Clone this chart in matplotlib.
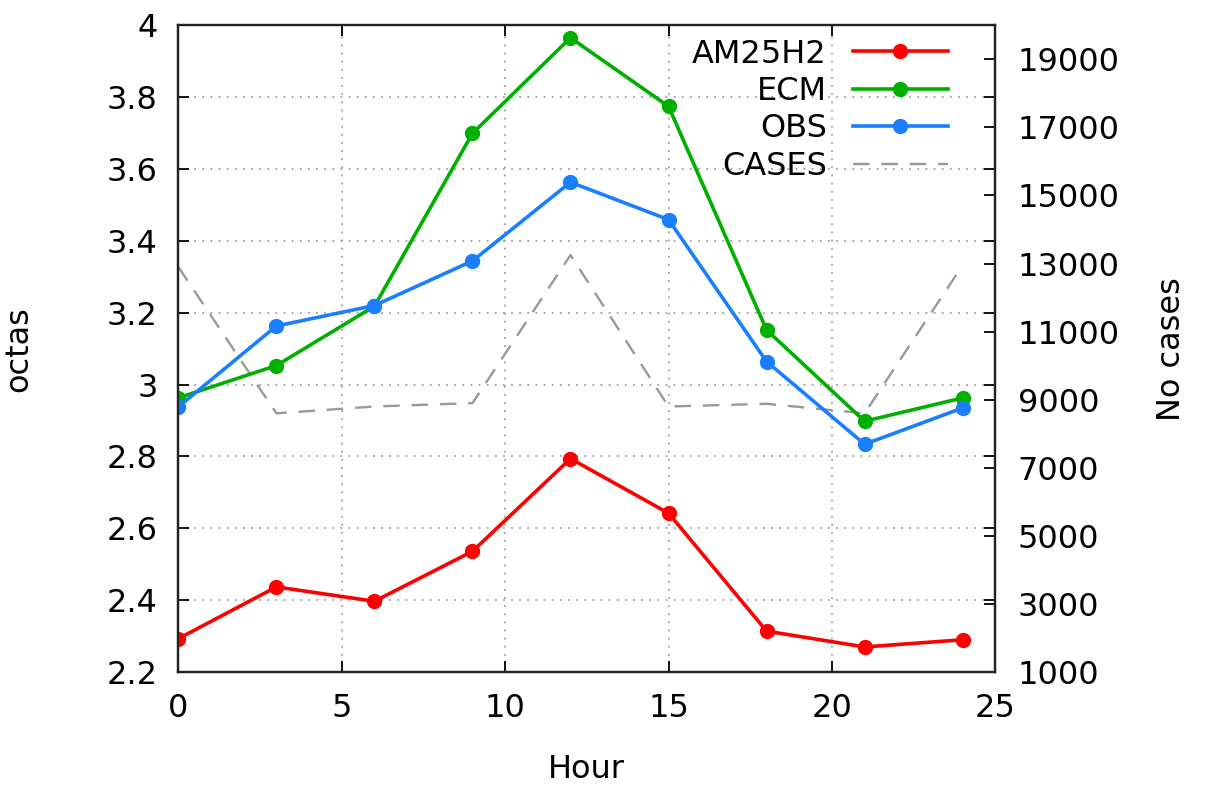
import matplotlib
matplotlib.use('Agg')
import matplotlib.pyplot as plt

# data
hours = [0, 3, 6, 9, 12, 15, 18, 21, 24]
am25h2 = [2.293, 2.437, 2.397, 2.536, 2.794, 2.642, 2.314, 2.270, 2.290]
ecm = [2.963, 3.053, 3.218, 3.699, 3.965, 3.774, 3.152, 2.898, 2.963]
obs = [2.938, 3.163, 3.220, 3.344, 3.563, 3.459, 3.064, 2.834, 2.935]
cases = [12900, 8600, 8800, 8900, 13250, 8800, 8880, 8600, 12950]

left_ticks = [2.2, 2.4, 2.6, 2.8, 3.0, 3.2, 3.4, 3.6, 3.8, 4.0]
left_labels = ['2.2', '2.4', '2.6', '2.8', '3', '3.2', '3.4', '3.6', '3.8', '4']
right_ticks = [1000, 3000, 5000, 7000, 9000, 11000, 13000, 15000, 17000, 19000]
x_ticks = [0, 5, 10, 15, 20, 25]

plt.rcParams['font.family'] = ['DejaVu Sans']
plt.rcParams['font.size'] = 23

fig = plt.figure(figsize=(12.05, 7.87), dpi=100)
ax1 = fig.add_axes([0.148, 0.146, 0.678, 0.822])
ax2 = ax1.twinx()

# keep the cases line behind the model lines
ax1.set_zorder(ax2.get_zorder() + 1)
ax1.patch.set_visible(False)

l1, = ax1.plot(hours, am25h2, color='#ff0000', lw=2.6, marker='o', ms=10, label='AM25H2')
l2, = ax1.plot(hours, ecm, color='#00b000', lw=2.6, marker='o', ms=10, label='ECM')
l3, = ax1.plot(hours, obs, color='#1a7fff', lw=2.6, marker='o', ms=10, label='OBS')
l4, = ax2.plot(hours, cases, color='#999999', lw=1.7, dashes=(7, 5), label='CASES')

ax1.set_xlim(0, 25)
ax1.set_ylim(2.2, 4.0)
ax2.set_ylim(1000, 20000)

ax1.set_xticks(x_ticks)
ax1.set_yticks(left_ticks)
ax1.set_yticklabels(left_labels)
ax2.set_yticks(right_ticks)

ax1.grid(True, color='#a0a0a0', linestyle=(0, (1, 3.5)), lw=1.3)

ax1.tick_params(direction='in', length=8, width=1.3, top=True, right=True, pad=15)
ax2.tick_params(direction='in', length=8, width=1.3, pad=16)

for ax in (ax1, ax2):
    for s in ax.spines.values():
        s.set_linewidth(1.6)
        s.set_color('#222222')

ax1.set_xlabel('Hour', labelpad=22)
ax1.set_ylabel('octas', labelpad=52)
ax2.set_ylabel('No cases', labelpad=26)

ax1.legend([l1, l2, l3, l4], ['AM25H2', 'ECM', 'OBS', 'CASES'],
           loc='upper right', frameon=False, markerfirst=False,
           handlelength=3.0, labelspacing=0.2, borderaxespad=0.2,
           bbox_to_anchor=(0.966, 1.009))

fig.savefig('out.png', dpi=100)
